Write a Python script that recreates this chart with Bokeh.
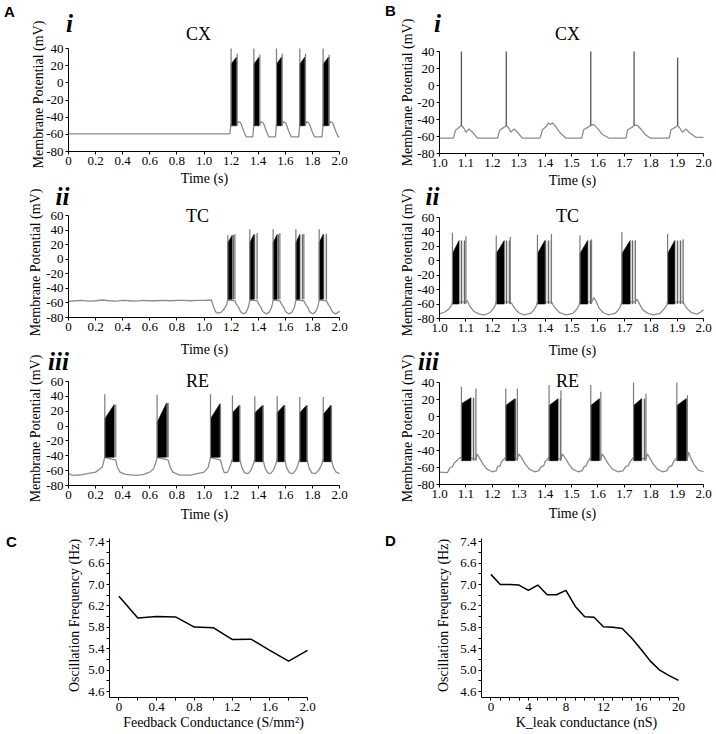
import math
from bokeh.plotting import figure
from bokeh.models import Range1d, FixedTicker, Label, PrintfTickFormatter, LinearAxis
from bokeh.embed import file_html
from bokeh.resources import INLINE

SERIF = "Liberation Serif"
SANS = "Liberation Sans"
GREY = "#8c8c8c"

# ---------------- data ----------------
# A-i  CX, 0-2 s
ai_t = [0.0, 1.19, 1.20, 1.245, 1.255, 1.272, 1.295, 1.312,
        1.36, 1.368, 1.412, 1.422, 1.439, 1.462, 1.479,
        1.527, 1.535, 1.577, 1.587, 1.604, 1.627, 1.644,
        1.699, 1.707, 1.749, 1.759, 1.776, 1.799, 1.816,
        1.871, 1.879, 1.924, 1.934, 1.951, 1.974, 1.991, 2.0]
ai_v = [-59.5, -59.5, -48, -48, -45, -47, -57, -63,
        -63, -48, -48, -45, -47, -57, -63,
        -63, -48, -48, -45, -47, -57, -63,
        -63, -48, -48, -45, -47, -57, -63,
        -63, -48, -48, -45, -47, -57, -63, -63]
ai_on = [1.200, 1.368, 1.535, 1.707, 1.879]
ai_bend = [1.240, 1.407, 1.572, 1.744, 1.919]
ai_off = [1.245, 1.412, 1.577, 1.749, 1.924]
ai_low = [-50, -50, -50, -50, -50]
ai_top_on = [22, 22, 22, 22, 22]
ai_top_off = [30, 30, 30, 30, 30]
ai_pk1 = [40, 40, 40, 40, 40]
ai_pk2 = [34, 33, 34, 34, 33]

# B-i  CX, 1-2 s
bi_t = [1.0, 1.053, 1.060, 1.075, 1.083, 1.092, 1.100, 1.112, 1.125, 1.144,
        1.220, 1.227, 1.245, 1.253, 1.262, 1.270, 1.283, 1.295, 1.314,
        1.381, 1.390, 1.405, 1.413, 1.420, 1.428, 1.440, 1.455, 1.479,
        1.539, 1.546, 1.563, 1.573, 1.585, 1.600, 1.615, 1.643,
        1.706, 1.713, 1.730, 1.737, 1.750, 1.765, 1.780, 1.800,
        1.870, 1.877, 1.894, 1.902, 1.910, 1.920, 1.933, 1.945, 1.971, 2.0]
bi_v = [-62, -62, -53, -49, -47, -50, -55, -51, -55, -62,
        -62, -53, -49, -47, -50, -55, -51, -55, -62,
        -62, -52, -48, -44, -46, -44, -48, -55, -62,
        -62, -52, -49, -47, -46, -51, -57, -62,
        -62, -52, -49, -47, -47, -52, -58, -62,
        -62, -52, -49, -47, -50, -55, -51, -55, -61, -61]
bi_spk = [1.083, 1.253, 1.573, 1.737, 1.902]
bi_spk_base = [-47, -47, -47, -47, -47]
bi_spk_peak = [40, 40, 40, 40, 33]

# A-ii  TC, 0-2 s
aii_t = [0.0, 0.05, 0.1, 0.15, 0.2, 0.25, 0.3, 0.35, 0.4, 0.45, 0.5, 0.55, 0.6,
         0.65, 0.7, 0.75, 0.8, 0.85, 0.9, 0.95, 1.0, 1.055,
         1.07, 1.085, 1.10, 1.125, 1.15, 1.165, 1.176,
         1.228, 1.24, 1.255, 1.27, 1.29, 1.31, 1.325, 1.333, 1.338,
         1.392, 1.405, 1.42, 1.435, 1.46, 1.48, 1.497, 1.505, 1.510,
         1.560, 1.573, 1.588, 1.603, 1.628, 1.648, 1.665, 1.673, 1.678,
         1.737, 1.75, 1.765, 1.78, 1.80, 1.82, 1.837, 1.845, 1.850,
         1.904, 1.917, 1.932, 1.947, 1.97, 1.99, 2.0]
aii_v = [-58, -57, -56.5, -57.5, -57, -56, -57, -57.5, -56.5, -57, -57.5, -56.5, -57,
         -57, -56.5, -57, -56.5, -56.5, -57, -56.5, -56.5, -56,
         -65, -72, -74, -73, -68, -63, -56,
         -57, -62, -66, -72, -75, -73, -67, -61, -56,
         -57, -62, -66, -72, -75, -73, -67, -61, -56,
         -57, -62, -66, -72, -75, -73, -67, -61, -56,
         -57, -62, -66, -72, -75, -73, -67, -61, -56,
         -57, -62, -66, -72, -75, -73, -71]
aii_on = [1.176, 1.338, 1.510, 1.678, 1.850]
aii_bend = [1.208, 1.368, 1.540, 1.707, 1.879]
aii_off = [1.228, 1.392, 1.560, 1.737, 1.904]
aii_low = [-55, -55, -55, -55, -55]
aii_top_on = [23, 23, 23, 23, 23]
aii_top_off = [33, 34, 34, 34, 34]
aii_pk1 = [33, 41, 41, 41, 41]
aii_pk2 = [35, 36, 36, 35, 35]

# B-ii  TC, 1-2 s
bii_t = [1.0, 1.02, 1.035, 1.045, 1.049,
         1.100, 1.105, 1.115, 1.13, 1.15, 1.17, 1.19, 1.205, 1.212, 1.215,
         1.268, 1.275, 1.285, 1.30, 1.32, 1.345, 1.36, 1.367, 1.371,
         1.424, 1.43, 1.44, 1.455, 1.48, 1.505, 1.52, 1.528, 1.532,
         1.576, 1.585, 1.592, 1.605, 1.62, 1.64, 1.665, 1.68, 1.687, 1.691,
         1.742, 1.748, 1.755, 1.77, 1.79, 1.81, 1.835, 1.85, 1.86, 1.864,
         1.923, 1.93, 1.94, 1.955, 1.975, 1.99, 2.0]
bii_v = [-73.5, -71, -67, -62, -57,
         -57, -55, -63, -70, -74, -75, -72, -66, -61, -57,
         -57, -60, -66, -72, -75, -73, -67, -62, -57,
         -57, -61, -66, -72, -75, -73, -67, -62, -57,
         -57, -51, -55, -66, -72, -75, -73, -67, -62, -57,
         -57, -53, -58, -68, -73, -75, -73, -67, -62, -57,
         -57, -62, -67, -72, -74, -71, -68]
bii_on = [1.049, 1.215, 1.371, 1.532, 1.691, 1.864]
bii_bend = [1.074, 1.245, 1.399, 1.561, 1.722, 1.891]
bii_off = [1.100, 1.268, 1.424, 1.576, 1.742, 1.923]
bii_low = [-60, -60, -60, -60, -60, -60]
bii_top_on = [10, 10, 10, 10, 10, 10]
bii_top_off = [28, 28, 28, 28, 28, 28]
bii_pk1 = [39, 35, 36, 35, 40, 37]
bii_pk2 = [34, 33, 37, 30, 28, 30]

# A-iii  RE, 0-2 s
aiii_t = [0.0, 0.03, 0.1, 0.2, 0.25, 0.262, 0.268,
          0.349, 0.36, 0.38, 0.42, 0.5, 0.55, 0.6, 0.63, 0.648, 0.654,
          0.736, 0.75, 0.77, 0.82, 0.9, 0.95, 1.0, 1.03, 1.042, 1.048,
          1.122, 1.135, 1.15, 1.175, 1.19, 1.20, 1.21,
          1.265, 1.28, 1.30, 1.325, 1.345, 1.36, 1.37, 1.375,
          1.437, 1.45, 1.47, 1.49, 1.51, 1.527, 1.535, 1.54,
          1.597, 1.61, 1.63, 1.655, 1.675, 1.692, 1.70, 1.707,
          1.762, 1.775, 1.795, 1.82, 1.845, 1.865, 1.875, 1.88,
          1.941, 1.955, 1.975, 2.0]
aiii_v = [-64, -66.5, -65.5, -62, -55, -46, -42,
          -46, -55, -62, -65, -66.5, -65.5, -62, -57, -47, -42,
          -46, -55, -62, -66, -66, -64, -62, -56, -47, -42,
          -46, -55, -63, -62, -55, -50, -44,
          -46, -56, -63, -64, -60, -53, -48, -44,
          -46, -56, -63, -64, -60, -53, -48, -44,
          -46, -56, -63, -64, -60, -53, -48, -44,
          -46, -56, -63, -64, -60, -53, -48, -44,
          -46, -56, -62, -64]
aiii_on = [0.268, 0.654, 1.048, 1.210, 1.375, 1.540, 1.707, 1.880]
aiii_bend = [0.337, 0.723, 1.117, 1.260, 1.432, 1.590, 1.757, 1.936]
aiii_off = [0.349, 0.736, 1.122, 1.265, 1.437, 1.597, 1.762, 1.941]
aiii_low = [-42, -42, -42, -48, -48, -48, -48, -48]
aiii_top_on = [10, 5, 10, 18, 18, 18, 18, 16]
aiii_top_off = [29, 31, 30, 28, 28, 28, 28, 28]
aiii_pk1 = [43, 42, 43, 41, 40, 40, 39, 39]
aiii_pk2 = [29, 31, 30, 28, 28, 28, 28, 28]

# B-iii  RE, 1-2 s
biii_t = [1.0, 1.03, 1.04, 1.05, 1.055, 1.065, 1.075, 1.083,
          1.138, 1.142, 1.15, 1.165, 1.18, 1.20, 1.215, 1.22, 1.23, 1.235, 1.245, 1.251,
          1.295, 1.30, 1.31, 1.325, 1.34, 1.36, 1.375, 1.385, 1.395, 1.40, 1.41, 1.415,
          1.46, 1.465, 1.475, 1.49, 1.505, 1.525, 1.54, 1.548, 1.556, 1.562, 1.568, 1.573,
          1.611, 1.616, 1.625, 1.64, 1.655, 1.675, 1.695, 1.705, 1.715, 1.722, 1.73, 1.735,
          1.782, 1.787, 1.795, 1.81, 1.825, 1.845, 1.86, 1.87, 1.88, 1.887, 1.894, 1.899,
          1.939, 1.944, 1.952, 1.965, 1.98, 2.0]
biii_v = [-65.5, -66, -60, -59, -55, -52, -49, -48,
          -50, -44, -48, -56, -62, -65, -64, -59, -58, -53, -50, -48,
          -50, -44, -48, -56, -62, -65, -64, -59, -58, -53, -50, -48,
          -50, -44, -48, -56, -62, -65, -64, -59, -58, -53, -50, -48,
          -50, -44, -48, -56, -62, -65, -64, -59, -58, -53, -50, -48,
          -50, -44, -48, -56, -62, -65, -64, -59, -58, -53, -50, -48,
          -50, -42, -49, -57, -63, -65]
biii_on = [1.083, 1.251, 1.415, 1.573, 1.735, 1.899]
biii_bend = [1.119, 1.285, 1.449, 1.605, 1.765, 1.934]
biii_off = [1.138, 1.295, 1.460, 1.611, 1.782, 1.939]
biii_low = [-52, -52, -52, -52, -52, -52]
biii_top_on = [15, 13, 13, 13, 13, 13]
biii_top_off = [22, 21, 21, 21, 21, 21]
biii_pk1 = [35, 33, 37, 37, 40, 40]
biii_pk2 = [33, 33, 31, 29, 27, 25]

# C and D
c_x = [0.0, 0.2, 0.4, 0.6, 0.8, 1.0, 1.2, 1.4, 1.6, 1.8, 2.0]
c_y = [6.38, 5.975, 6.005, 5.995, 5.805, 5.795, 5.575, 5.58, 5.37, 5.17, 5.37]
d_x = [0, 1, 2, 3, 4, 5, 6, 7, 8, 9, 10, 11, 12, 13, 14, 15, 16, 17, 18, 19, 20]
d_y = [6.79, 6.60, 6.60, 6.59, 6.49, 6.59, 6.41, 6.41, 6.49, 6.19, 6.00,
       5.99, 5.81, 5.80, 5.78, 5.60, 5.39, 5.17, 5.00, 4.90, 4.81]

freq_ticks = [4.6, 5.0, 5.4, 5.8, 6.2, 6.6, 7.0, 7.4]
freq_minor = [4.8, 5.2, 5.6, 6.0, 6.4, 6.8, 7.2]
freq_overrides = {6.6: "7.0", 7.0: "6.6"}

A_TICKS = [0.0, 0.2, 0.4, 0.6, 0.8, 1.0, 1.2, 1.4, 1.6, 1.8, 2.0]
B_TICKS = [1.0, 1.1, 1.2, 1.3, 1.4, 1.5, 1.6, 1.7, 1.8, 1.9, 2.0]
C_TICKS = [0.0, 0.4, 0.8, 1.2, 1.6, 2.0]
C_MINOR = [0.2, 0.6, 1.0, 1.4, 1.8]
D_TICKS = [0, 4, 8, 12, 16, 20]
D_MINOR = [1, 2, 3, 5, 6, 7, 9, 10, 11, 13, 14, 15, 17, 18, 19]

for a, b in [(ai_t, ai_v), (bi_t, bi_v), (aii_t, aii_v), (bii_t, bii_v),
             (aiii_t, aiii_v), (biii_t, biii_v), (c_x, c_y), (d_x, d_y)]:
    assert len(a) == len(b), (len(a), len(b))

# ---------------- geometry (page px) ----------------
W, H = 714, 732
# axis box in page px: left, right, top, bottom, x-extent, y-extent
G = {
    "Ai": (68, 339, 48, 151, (0, 2), (-80, 40)),
    "Bi": (439, 703, 51, 153, (1, 2), (-80, 40)),
    "Aii": (68, 339, 215, 317, (0, 2), (-80, 60)),
    "Bii": (439, 703, 217, 318, (1, 2), (-80, 60)),
    "Aiii": (68, 339, 381, 485, (0, 2), (-80, 60)),
    "Biii": (439, 703, 382, 484, (1, 2), (-80, 40)),
    "C": (109, 307, 538, 697, (-0.1, 2.0), (4.49, 7.46)),
    "D": (481, 678, 538, 697, (-1, 20), (4.49, 7.46)),
}


def to_data(key, px, py):
    l, r, t, b, (x0, x1), (y0, y1) = G[key]
    return (x0 + (px - l) / (r - l) * (x1 - x0),
            y1 - (py - t) / (b - t) * (y1 - y0))


p = figure(width=W, height=H, x_range=Range1d(0, W), y_range=Range1d(0, H),
           x_axis_type=None, y_axis_type=None,
           output_backend="svg", toolbar_location=None, tools="",
           min_border_left=0, min_border_right=0, min_border_top=0, min_border_bottom=0)
p.outline_line_color = None
p.grid.visible = False

ext_x, ext_y = {}, {}
for key in G:
    xs, ye = to_data(key, 0, 0)
    xe, ys = to_data(key, W, H)
    ext_x[key] = Range1d(xs, xe)
    ext_y[key] = Range1d(ys, ye)
p.extra_x_ranges = ext_x
p.extra_y_ranges = ext_y


def style_axis(ax):
    ax.axis_line_color = "black"
    ax.axis_line_width = 1
    ax.major_tick_line_color = "black"
    ax.major_tick_out = 3
    ax.major_tick_in = 0
    ax.minor_tick_line_color = None
    ax.major_label_text_font = SERIF
    ax.major_label_text_font_size = "13px"
    ax.major_label_text_color = "black"
    ax.major_label_standoff = 2


def add_axes(key, xticks, xminor, xfmt, xover, yticks, yminor, yfmt, yover):
    l, r, t, b, (x0, x1), (y0, y1) = G[key]
    xa = LinearAxis(x_range_name=key, y_range_name=key, fixed_location=y0, bounds=(x0, x1),
                    ticker=FixedTicker(ticks=xticks, minor_ticks=xminor),
                    formatter=PrintfTickFormatter(format=xfmt))
    ya = LinearAxis(x_range_name=key, y_range_name=key, fixed_location=x0, bounds=(y0, y1),
                    ticker=FixedTicker(ticks=yticks, minor_ticks=yminor),
                    formatter=PrintfTickFormatter(format=yfmt))
    for ax, over, minor in ((xa, xover, xminor), (ya, yover, yminor)):
        style_axis(ax)
        ax.major_label_overrides = over
        if minor:
            ax.minor_tick_line_color = "black"
            ax.minor_tick_out = 3
            ax.minor_tick_in = 0
    p.add_layout(xa, "below")
    p.add_layout(ya, "left")


def text(px, py, s, size, font=SERIF, style="normal", angle=0.0):
    p.add_layout(Label(x=px, y=H - py, text=s, text_font=font, text_font_size=size,
                       text_font_style=style, text_align="center", text_baseline="middle",
                       text_color="black", angle=angle))


def draw_bursts(key, t, v, on, bend, off, low, top_on, top_off, pk1, pk2):
    kw = dict(x_range_name=key, y_range_name=key)
    p.line(t, v, line_color=GREY, line_width=1.3, **kw)
    tail_x = [[b, b, o, o] for b, o in zip(bend, off)]
    tail_y = [[lo, tt, tt, lo] for lo, tt in zip(low, top_off)]
    p.patches(tail_x, tail_y, fill_color="#9a9a9a", fill_alpha=0.35, line_color=None,
              hatch_pattern="vertical_line", hatch_color="#666666", hatch_scale=3,
              hatch_weight=1, **kw)
    blk_x = [[o, o, b, b] for o, b in zip(on, bend)]
    blk_y = [[lo, a, c, lo] for lo, a, c in zip(low, top_on, top_off)]
    p.patches(blk_x, blk_y, fill_color="black", line_color="black", line_width=0.5, **kw)
    p.segment(x0=on, y0=low, x1=on, y1=pk1, line_color="#7a7a7a", line_width=1.2, **kw)
    p.segment(x0=off, y0=low, x1=off, y1=pk2, line_color="#7a7a7a", line_width=1.2, **kw)


MP = "Membrane Potential (mV)"
TS = "Time (s)"

# trace panels: axes
for key, xt, xover, yr in [("Ai", A_TICKS, {0: "0"}, (-80, 40)),
                           ("Bi", B_TICKS, {}, (-80, 40)),
                           ("Aii", A_TICKS, {0: "0"}, (-80, 60)),
                           ("Bii", B_TICKS, {}, (-80, 60)),
                           ("Aiii", A_TICKS, {0: "0"}, (-80, 60)),
                           ("Biii", B_TICKS, {}, (-80, 40))]:
    add_axes(key, xt, [], "%.1f", xover, list(range(yr[0], yr[1] + 1, 20)), [], "%d", {})

add_axes("C", C_TICKS, C_MINOR, "%.1f", {0: "0"}, freq_ticks, freq_minor, "%.1f", freq_overrides)
add_axes("D", D_TICKS, D_MINOR, "%d", {}, freq_ticks, freq_minor, "%.1f", freq_overrides)

# traces
draw_bursts("Ai", ai_t, ai_v, ai_on, ai_bend, ai_off, ai_low, ai_top_on, ai_top_off, ai_pk1, ai_pk2)
p.line(bi_t, bi_v, line_color=GREY, line_width=1.3, x_range_name="Bi", y_range_name="Bi")
p.segment(x0=bi_spk, y0=bi_spk_base, x1=bi_spk, y1=bi_spk_peak, line_color="#555555",
          line_width=1.3, x_range_name="Bi", y_range_name="Bi")
draw_bursts("Aii", aii_t, aii_v, aii_on, aii_bend, aii_off, aii_low, aii_top_on, aii_top_off, aii_pk1, aii_pk2)
draw_bursts("Bii", bii_t, bii_v, bii_on, bii_bend, bii_off, bii_low, bii_top_on, bii_top_off, bii_pk1, bii_pk2)
draw_bursts("Aiii", aiii_t, aiii_v, aiii_on, aiii_bend, aiii_off, aiii_low, aiii_top_on, aiii_top_off, aiii_pk1, aiii_pk2)
draw_bursts("Biii", biii_t, biii_v, biii_on, biii_bend, biii_off, biii_low, biii_top_on, biii_top_off, biii_pk1, biii_pk2)
p.line(c_x, c_y, line_color="black", line_width=1.5, x_range_name="C", y_range_name="C")
p.line(d_x, d_y, line_color="black", line_width=1.5, x_range_name="D", y_range_name="D")

# texts
text(9, 11, "A", "15px", SANS, "bold")
text(390, 10, "B", "15px", SANS, "bold")
text(11, 541, "C", "15px", SANS, "bold")
text(390, 540, "D", "15px", SANS, "bold")

text(69, 23, "i", "25px", SERIF, "bold italic")
text(437, 23, "i", "25px", SERIF, "bold italic")
text(62, 196, "ii", "25px", SERIF, "bold italic")
text(432, 196, "ii", "25px", SERIF, "bold italic")
text(58, 361, "iii", "25px", SERIF, "bold italic")
text(428, 361, "iii", "25px", SERIF, "bold italic")

text(198, 33, "CX", "18px")
text(567, 33, "CX", "18px")
text(197, 215, "TC", "18px")
text(567, 215, "TC", "18px")
text(197, 380, "RE", "18px")
text(567, 380, "RE", "18px")

for px, py in [(204, 178), (572, 180), (204, 349), (572, 350), (204, 514), (572, 513)]:
    text(px, py, TS, "14px")
for px, py in [(38, 94), (407, 92), (35, 262), (407, 262), (35, 428), (407, 428)]:
    text(px, py, MP, "14px", angle=math.pi / 2)

text(213, 722, "Feedback Conductance (S/mm\u00b2)", "14px")
text(586, 722, "K_leak conductance (nS)", "14px")
text(74, 615, "Oscillation Frequency (Hz)", "14px", angle=math.pi / 2)
text(443, 615, "Oscillation Frequency (Hz)", "14px", angle=math.pi / 2)

open("out.html", "w").write(file_html(p, INLINE))
